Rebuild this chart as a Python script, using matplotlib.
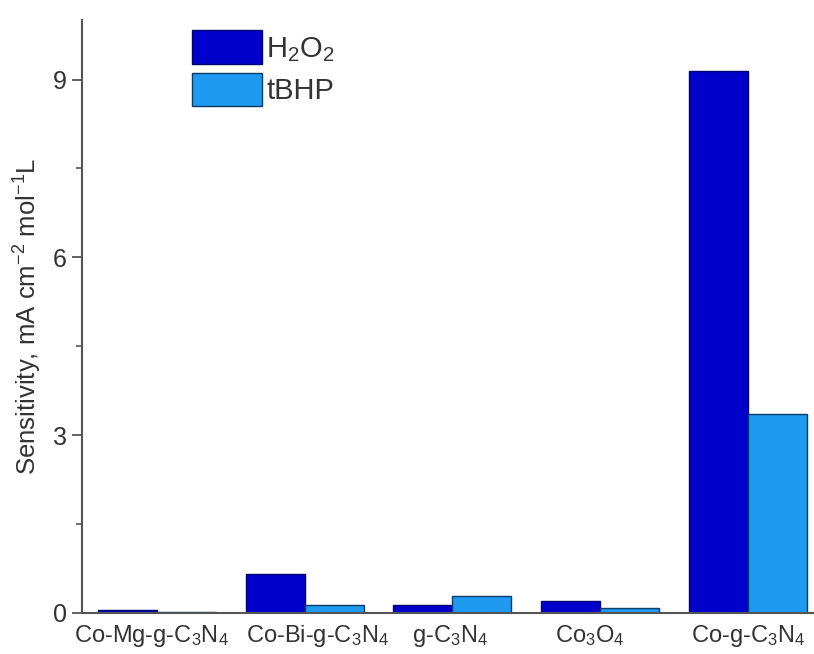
import matplotlib
matplotlib.use("Agg")
import matplotlib.pyplot as plt
from matplotlib.transforms import ScaledTranslation
import numpy as np

plt.rcParams['font.family'] = ['Liberation Sans', 'DejaVu Sans']
plt.rcParams['mathtext.fontset'] = 'custom'
plt.rcParams['mathtext.rm'] = 'Liberation Sans'
plt.rcParams['mathtext.it'] = 'Liberation Sans'

categories = [r'Co-Mg-g-C$_3$N$_4$', r'Co-Bi-g-C$_3$N$_4$', r'g-C$_3$N$_4$',
              r'Co$_3$O$_4$', r'Co-g-C$_3$N$_4$']
h2o2 = [0.05, 0.66, 0.14, 0.20, 9.14]
tbhp = [0.01, 0.13, 0.28, 0.08, 3.36]
series_labels = [r'H$_2$O$_2$', 'tBHP']

fig = plt.figure(figsize=(8.14, 6.54), dpi=100)
ax = fig.add_axes([0.1007, 0.0627, 0.8993, 0.9063])

x = np.arange(len(categories))
w = 0.4
ax.bar(x - w/2, h2o2, width=w, color='#0000CD', edgecolor='#00006E', linewidth=1.0, label=series_labels[0])
ax.bar(x + w/2, tbhp, width=w, color='#1E9BF0', edgecolor='#0A3A66', linewidth=1.0, label=series_labels[1])

ax.set_xlim(-0.51, 4.45)
ax.set_ylim(0, 10)
ax.set_yticks([0, 3, 6, 9])
ax.set_yticks([1.5, 4.5, 7.5], minor=True)
ax.set_xticks(x)
ax.set_xticklabels(categories)

for s in ['top', 'right']:
    ax.spines[s].set_visible(False)
for s in ['left', 'bottom']:
    ax.spines[s].set_color('#555555')
    ax.spines[s].set_linewidth(1.5)

ax.tick_params(axis='y', which='major', direction='out', length=7, width=1.3,
               color='#555555', labelsize=18, labelcolor='#333333', pad=4)
ax.tick_params(axis='y', which='minor', direction='out', length=4, width=1.2, color='#555555')
ax.tick_params(axis='x', which='major', length=0, labelsize=17, labelcolor='#333333', pad=7)

# small horizontal nudges of the category labels (pixels)
nudges = [-6, 13, -2, -10, 1]
for lab, dx in zip(ax.get_xticklabels(), nudges):
    lab.set_transform(lab.get_transform() + ScaledTranslation(dx / 100.0, 0, fig.dpi_scale_trans))

ax.set_ylabel(r'Sensitivity, mA cm$^{-2}$ mol$^{-1}$L', fontsize=18.5, color='#333333', labelpad=6)

leg = ax.legend(loc='upper left', bbox_to_anchor=(0.15, 0.983), frameon=False,
                fontsize=21, handlelength=2.4, handleheight=1.4, labelspacing=0.3,
                handletextpad=0.15, borderpad=0.0, borderaxespad=0.0)
for t in leg.get_texts():
    t.set_color('#333333')

fig.savefig('out.png', dpi=100)
